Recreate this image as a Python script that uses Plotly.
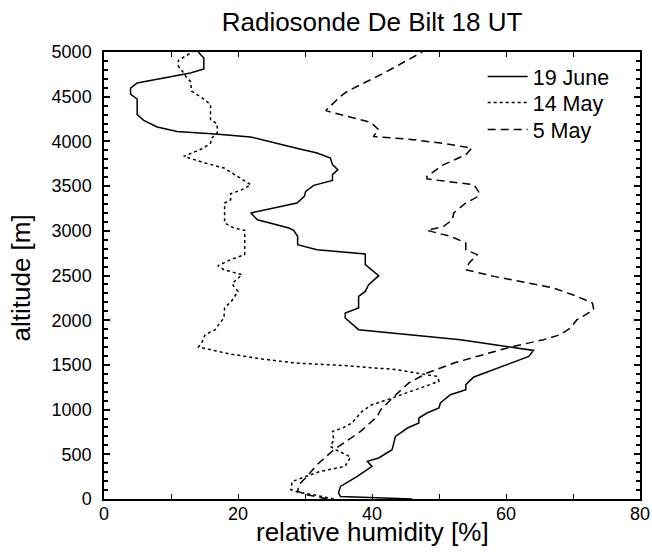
import plotly.graph_objects as go

# 19 June (solid)
june19_rh = [46.0, 35.3, 35.0, 35.3, 37.8, 40.0, 39.3, 41.0, 43.0, 43.5, 45.3, 47.0, 47.0, 48.2, 50.0,
             50.2, 51.7, 54.0, 54.0, 55.2, 63.4, 64.1, 53.2, 38.0, 36.0, 36.0, 38.0, 38.0, 39.0, 39.5,
             41.0, 39.0, 39.0, 31.8, 28.9, 28.9, 28.3, 27.6, 22.9, 21.9, 28.8, 29.9, 30.1, 31.3, 34.1,
             34.1, 34.9, 34.1, 33.8, 31.8, 28.6, 21.9, 16.6, 10.9, 7.94, 5.94, 4.95, 4.95, 3.96, 3.96,
             4.95, 12.9, 14.9, 14.9, 14.06]
june19_alt = [0, 29, 67, 141, 253, 365, 421, 459, 551, 700, 794, 850, 906, 962, 1018,
              1074, 1167, 1223, 1279, 1365, 1595, 1662, 1782, 1894, 2025, 2081, 2137, 2266, 2322, 2397,
              2498, 2621, 2740, 2789, 2845, 2938, 3005, 3031, 3124, 3199, 3311, 3385, 3441, 3508, 3564,
              3628, 3684, 3740, 3814, 3870, 3926, 4049, 4083, 4112, 4161, 4235, 4299, 4474, 4530, 4597,
              4653, 4765, 4810, 4933, 5000]

# 14 May (dotted)
may14_rh = [34.3, 31.3, 29.1, 27.9, 28.1, 30.3, 32.3, 36.0, 36.8, 34.6, 33.8, 34.3, 34.1, 35.6, 37.0,
            38.5, 40.0, 42.3, 45.3, 47.2, 50.0, 49.7, 48.2, 43.8, 36.3, 28.6, 23.6, 18.6, 14.1, 14.7,
            15.1, 16.6, 17.1, 17.9, 18.0, 19.0, 20.0, 19.1, 20.6, 20.1, 17.9, 17.0, 18.9, 21.0, 21.0,
            19.4, 18.0, 18.0, 18.9, 18.9, 20.6, 21.9, 19.6, 17.9, 15.1, 11.9, 13.7, 14.9, 15.9, 16.1,
            16.9, 16.9, 15.9, 15.9, 14.7, 13.1, 12.9, 12.2, 11.9, 11.1, 11.1, 12.4, 13.2]
may14_alt = [0, 48, 74, 104, 197, 253, 309, 365, 470, 551, 588, 663, 756, 794, 850,
             980, 1055, 1111, 1186, 1241, 1316, 1372, 1390, 1446, 1491, 1521, 1566, 1625, 1700, 1763,
             1838, 1894, 1950, 2025, 2137, 2210, 2322, 2408, 2509, 2520, 2565, 2610, 2677, 2733, 3005,
             3031, 3087, 3311, 3348, 3415, 3460, 3516, 3628, 3703, 3758, 3833, 3888, 3926, 3982, 4038,
             4094, 4198, 4243, 4411, 4485, 4560, 4671, 4728, 4765, 4839, 4907, 4959, 5000]

# 5 May (dashed)
may5_rh = [33.3, 30.3, 28.9, 29.1, 30.3, 31.8, 34.3, 36.1, 38.3, 40.8, 41.3, 43.3, 45.5, 48.2, 52.2,
           56.2, 60.7, 65.6, 68.1, 69.6, 70.6, 71.9, 73.1, 72.9, 70.6, 67.1, 63.2, 58.2, 54.0, 54.5,
           55.7, 54.0, 54.0, 51.7, 48.2, 50.7, 52.0, 52.2, 54.0, 55.9, 55.9, 55.2, 48.2, 48.2, 50.7,
           54.0, 54.9, 50.2, 46.2, 40.2, 41.0, 39.8, 36.3, 33.1, 35.3, 36.3, 41.8, 46.2, 47.5]
may5_alt = [0, 48, 85, 160, 253, 384, 551, 644, 756, 924, 999, 1148, 1298, 1409, 1521,
            1606, 1700, 1782, 1838, 1913, 2006, 2062, 2118, 2193, 2266, 2360, 2416, 2490, 2565, 2640,
            2733, 2789, 2864, 2938, 3005, 3049, 3124, 3199, 3311, 3385, 3441, 3516, 3580, 3609, 3740,
            3851, 3926, 3982, 4019, 4056, 4131, 4213, 4280, 4344, 4504, 4560, 4765, 4951, 5000]

x_ticks = [0, 20, 40, 60, 80]
y_ticks = [0, 500, 1000, 1500, 2000, 2500, 3000, 3500, 4000, 4500, 5000]

FONT = "Liberation Sans, Arial, Helvetica, sans-serif"

fig = go.Figure()
fig.add_trace(go.Scatter(x=june19_rh, y=june19_alt, mode="lines", name="19 June", legend="legend",
                         line=dict(color="black", width=1.5, dash="solid")))
fig.add_trace(go.Scatter(x=may14_rh, y=may14_alt, mode="lines", name="14 May", legend="legend2",
                         line=dict(color="black", width=1.5, dash="dot")))
fig.add_trace(go.Scatter(x=may5_rh, y=may5_alt, mode="lines", name="5 May", legend="legend3",
                         line=dict(color="black", width=1.5, dash="8px,5px")))

leg_common = dict(x=0.7065, xanchor="left", yanchor="top", bgcolor="rgba(0,0,0,0)",
                  font=dict(size=21.5, family=FONT), itemwidth=40)

fig.update_layout(
    width=652, height=552,
    margin=dict(l=104, r=12, t=52, b=53, autoexpand=False),
    paper_bgcolor="white", plot_bgcolor="white",
    font=dict(family=FONT, color="black", size=18),
    title=dict(text="Radiosonde De Bilt 18 UT", x=0.5, xanchor="center", xref="paper",
               y=0.961, yref="container", yanchor="middle", font=dict(size=26, family=FONT)),
    showlegend=True,
    legend=dict(y=0.991, **leg_common),
    legend2=dict(y=0.9331, **leg_common),
    legend3=dict(y=0.8727, **leg_common),
    annotations=[
        dict(text="relative humidity [%]", xref="paper", yref="paper", x=0.5, y=-0.0735,
             xanchor="center", yanchor="middle", showarrow=False, font=dict(size=26, family=FONT)),
        dict(text="altitude [m]", xref="paper", yref="paper", x=-0.1549, y=0.4955,
             xanchor="center", yanchor="middle", textangle=-90, showarrow=False,
             font=dict(size=26, family=FONT)),
    ],
)
fig.update_xaxes(
    range=[0, 80], tickvals=x_ticks, ticktext=[str(v) for v in x_ticks],
    showgrid=False, zeroline=False, showline=True, linecolor="black", linewidth=1.5,
    mirror="allticks", ticks="inside", ticklen=5, tickwidth=1, tickcolor="black",
    minor=dict(dtick=10, ticks="inside", ticklen=5, tickcolor="black", showgrid=False),
    ticklabelstandoff=-2, automargin=False, tickfont=dict(size=18),
)
fig.update_yaxes(
    range=[0, 5000], tickvals=y_ticks, ticktext=[str(v) for v in y_ticks],
    showgrid=False, zeroline=False, showline=True, linecolor="black", linewidth=1.5,
    mirror="allticks", ticks="inside", ticklen=6, tickwidth=1.5, tickcolor="black",
    minor=dict(dtick=100, ticks="inside", ticklen=4, tickcolor="black", showgrid=False),
    ticklabelstandoff=7, automargin=False, tickfont=dict(size=18),
)

fig.write_html("out.html", config={"displayModeBar": False},
               post_script="document.body.style.margin='0';")
